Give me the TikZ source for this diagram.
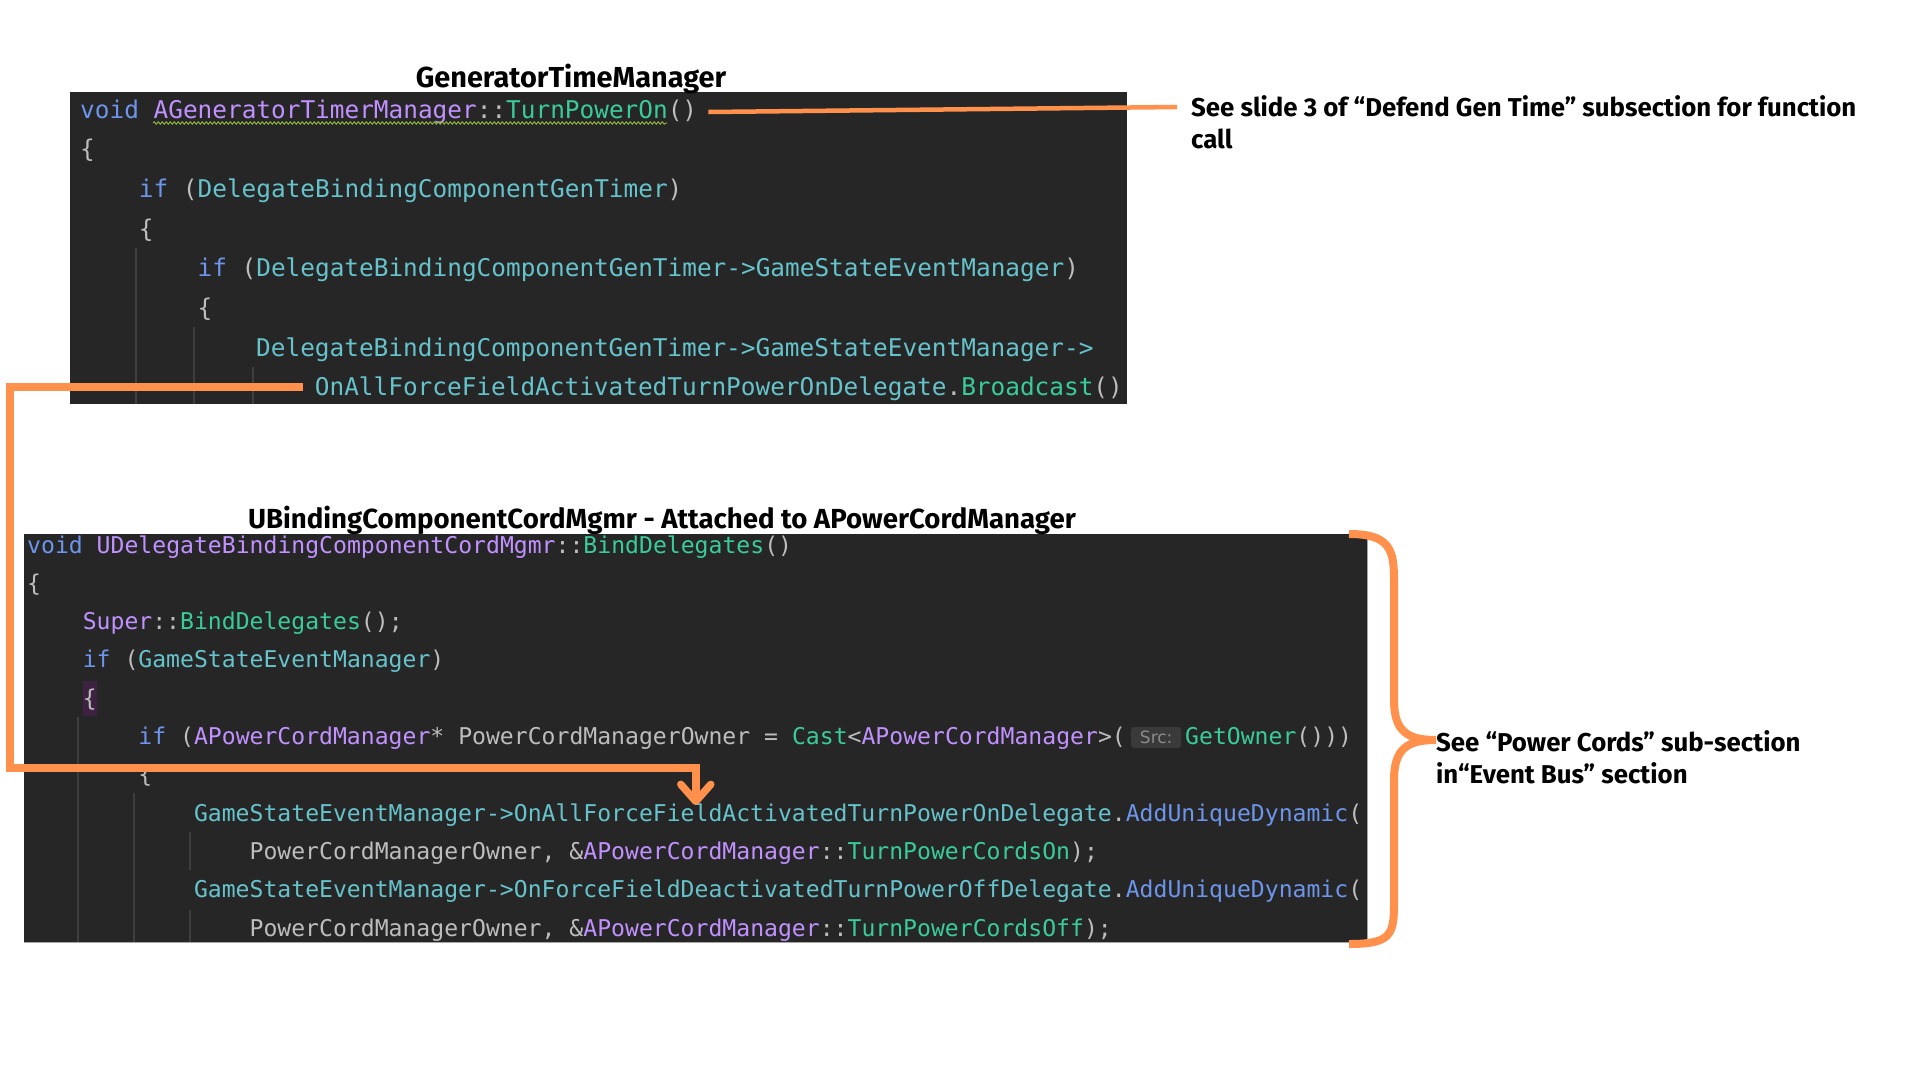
\documentclass[tikz,border=0pt]{standalone}
\usepackage{fontspec}
\setmonofont{DejaVu Sans Mono}
\newfontfamily\lblfont{Fira Sans}
\newfontfamily\hintfont{DejaVu Sans}
\usetikzlibrary{calc,arrows.meta,decorations.pathmorphing}
\definecolor{codebg}{HTML}{262626}
\definecolor{ckw}{HTML}{6C95EB}
\definecolor{cty}{HTML}{C191FF}
\definecolor{cfn}{HTML}{39CC9B}
\definecolor{cfd}{HTML}{66C3CC}
\definecolor{cpl}{HTML}{BDBDBD}
\definecolor{guide}{HTML}{3E3E3E}
\definecolor{accent}{HTML}{FF914D}
\definecolor{squig}{HTML}{8DB33F}
\newcommand\cKw[1]{\textcolor{ckw}{#1}}
\newcommand\cTy[1]{\textcolor{cty}{#1}}
\newcommand\cFn[1]{\textcolor{cfn}{#1}}
\newcommand\cFd[1]{\textcolor{cfd}{#1}}
\newcommand\codeAfont{\ttfamily\fontsize{24.4}{24.4}\selectfont}
\newcommand\codeBfont{\ttfamily\fontsize{23.1}{23.1}\selectfont}
\newcommand\lblsize[1]{\lblfont\bfseries\fontsize{#1}{#1}\selectfont}
\begin{document}
\begin{tikzpicture}[x=1pt,y=-1pt,
  codeA/.style={anchor=base west,inner sep=0pt,font=\codeAfont,text=cpl},
  codeB/.style={anchor=base west,inner sep=0pt,font=\codeBfont,text=cpl},
  lbl/.style={inner sep=0pt,font=\lblsize{25.8},text=black},
  conn/.style={draw=accent},
  guideline/.style={draw=guide,line width=1.5pt},
  codebox/.style={fill=codebg}]
\useasboundingbox (0,0) rectangle (1920,1080);
\fill[white] (0,0) rectangle (1920,1080);

% ---------- top code box ----------
\fill[codebox] (70,92) rectangle (1127,404);
\begin{scope}
\clip (70,92) rectangle (1127,404);
\draw[guideline] (136,248) -- (136,404);
\draw[guideline] (194,327) -- (194,404);
\draw[guideline] (253,367) -- (253,404);
\node[codeA] (t1) at (80,118) {\cKw{void} \cTy{AGeneratorTimerManager}::\cFn{TurnPowerOn}()};
\node[codeA] (t2) at (80,157.7) {\{};
\node[codeA] (t3) at (138.7,197.4) {\cKw{if} (\cFd{DelegateBindingComponentGenTimer})};
\node[codeA] (t4) at (138.7,237.1) {\{};
\node[codeA] (t5) at (197.4,276.8) {\cKw{if} (\cFd{DelegateBindingComponentGenTimer->GameStateEventManager})};
\node[codeA] (t6) at (197.4,316.5) {\{};
\node[codeA] (t7) at (256,356.2) {\cFd{DelegateBindingComponentGenTimer->GameStateEventManager->}};
\node[codeA] (t8) at (314.7,395.9) {\cFd{OnAllForceFieldActivatedTurnPowerOnDelegate}.\cFn{Broadcast}()};
\draw[draw=squig,line width=1pt,decorate,decoration={snake,amplitude=1.2pt,segment length=4pt}] (153,123) -- (667,123);
\end{scope}

% ---------- bottom code box ----------
\fill[codebox] (24,534) rectangle (1367,942);
\draw[draw=gray!70,line width=1pt] (24,942) -- (1367,942) -- (1367,534);
\begin{scope}
\clip (24,534) rectangle (1367,942);
\draw[guideline] (78,717) -- (78,942);
\draw[guideline] (134,793) -- (134,942);
\draw[guideline] (190,832) -- (190,870);
\draw[guideline] (190,910) -- (190,942);
\fill[fill={rgb,255:red,62;green,34;blue,66}] (82.6,681) rectangle (96.5,716);
\node[codeB] (b1) at (27,553) {\cKw{void} \cTy{UDelegateBindingComponentCordMgmr}::\cFn{BindDelegates}()};
\node[codeB] (b2) at (27,591.3) {\{};
\node[codeB] (b3) at (82.6,629.6) {\cTy{Super}::\cFn{BindDelegates}();};
\node[codeB] (b4) at (82.6,667.9) {\cKw{if} (\cFd{GameStateEventManager})};
\node[codeB] (b5) at (82.6,706.2) {\{};
\node[codeB] (b6) at (138.2,744.5) {\cKw{if} (\cTy{APowerCordManager}* PowerCordManagerOwner = \cFn{Cast}<\cTy{APowerCordManager}>(};
\node[fill={rgb,255:red,58;green,58;blue,58},rounded corners=3pt,text={rgb,255:red,140;green,140;blue,140},
      font=\hintfont\fontsize{17}{17}\selectfont,inner sep=0pt,minimum width=50pt,minimum height=21pt,anchor=west]
      (hint) at (1131,737.5) {Src:};
\node[codeB] (b6b) at (1185,744.5) {\cFn{GetOwner}()))};
\node[codeB] (b7) at (138.2,782.8) {\{};
\node[codeB] (b8) at (193.8,821.1) {\cFd{GameStateEventManager->OnAllForceFieldActivatedTurnPowerOnDelegate}.\cKw{AddUniqueDynamic}(};
\node[codeB] (b9) at (249.4,859.4) {PowerCordManagerOwner, \&\cTy{APowerCordManager}::\cFn{TurnPowerCordsOn});};
\node[codeB] (b10) at (193.8,897.7) {\cFd{GameStateEventManager->OnForceFieldDeactivatedTurnPowerOffDelegate}.\cKw{AddUniqueDynamic}(};
\node[codeB] (b11) at (249.4,936) {PowerCordManagerOwner, \&\cTy{APowerCordManager}::\cFn{TurnPowerCordsOff});};
\end{scope}

% ---------- labels ----------
\node[lbl,anchor=base,font=\lblsize{28.9}] (title1) at (571,87) {GeneratorTimeManager};
\node[lbl,anchor=base,font=\lblsize{27.6}] (title2) at (662,528) {UBindingComponentCordMgmr - Attached to APowerCordManager};
\node[lbl,anchor=base west] (note1) at (1191,116) {See slide 3 of “Defend Gen Time” subsection for function};
\node[lbl,anchor=base west] (note1b) at (1191,148) {call};
\node[lbl,anchor=base west] (note2) at (1436,751) {See “Power Cords” sub-section};
\node[lbl,anchor=base west] (note2b) at (1436,783) {in“Event Bus” section};

% ---------- connectors ----------
\draw[conn,line width=4.5pt] ($(t1.base east)+(11,-6)$) -- ($(note1.base west)+(-14,-9)$);
\coordinate (c2start) at ($(t8.base west)+(-12,-9)$);
\coordinate (c2bend) at (10,768);
\coordinate (c2tip) at ($(b8.base west)+(502,-16)$);
\draw[conn,line width=7.5pt,line join=miter,-{Straight Barb[length=17pt,width=30pt,round]}]
  (c2start) -| (c2bend) -| (c2tip);

% ---------- brace ----------
\draw[draw=accent,line width=8pt]
  (1349,534) .. controls (1390,534) and (1394,550) .. (1394,580) -- (1394,700)
  .. controls (1394,732) and (1408,740) .. (1436,740)
  .. controls (1408,740) and (1394,748) .. (1394,780) -- (1394,905)
  .. controls (1394,935) and (1390,944) .. (1349,944);
\end{tikzpicture}
\end{document}
